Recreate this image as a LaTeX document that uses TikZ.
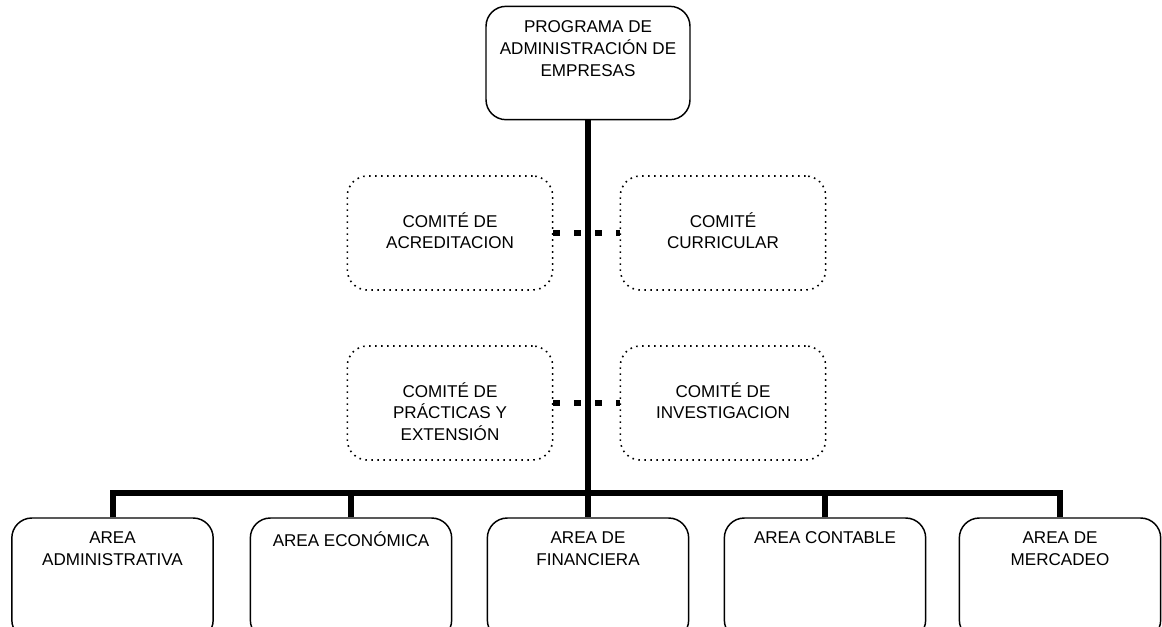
\documentclass[tikz,border=0pt]{standalone}
\usepackage{fontspec}
\setmainfont{Liberation Sans}
\tikzset{
	unit/.style={draw, line width=1.1pt, rounded corners=15pt, inner sep=0pt, font=\fontsize{12.8}{16.3}\selectfont},
	comite/.style={draw, line width=1.2pt, dash pattern=on 1.2pt off 3.3pt, rounded corners=15pt, inner sep=0pt, font=\fontsize{12.8}{16.3}\selectfont},
	mando/.style={line width=4.5pt},
	enlace/.style={line width=4.5pt, dash pattern=on 5.25pt off 10.5pt}
}
\newcommand{\caja}[4]{\parbox[c][#1][t]{#2}{\centering\vspace*{#3}#4}}
\begin{document}
\begin{tikzpicture}[x=0.75pt, y=-0.75pt]
	\useasboundingbox (0,0) rectangle (1162,626);
	\clip (0,0) rectangle (1162,626);
	% programa
	\node [unit] (prog) at (588,63) {\caja{85pt}{153pt}{10.8pt}{PROGRAMA DE\\ADMINISTRACIÓN DE\\EMPRESAS}};
	% comites
	\node [comite] (acred) at (450,233) {\caja{85.5pt}{154pt}{27.2pt}{COMITÉ DE\\ACREDITACION}};
	\node [comite] (curri) at (723,233) {\caja{85.5pt}{154pt}{27.2pt}{COMITÉ\\CURRICULAR}};
	\node [comite] (pract) at (450,403) {\caja{85.5pt}{154pt}{27.2pt}{COMITÉ DE\\PRÁCTICAS Y\\EXTENSIÓN}};
	\node [comite] (inves) at (723,403) {\caja{85.5pt}{154pt}{27.2pt}{COMITÉ DE\\INVESTIGACION}};
	% areas
	\node [unit] (admin) at (112.5,579) {\caja{91.5pt}{151pt}{10.3pt}{AREA\\ADMINISTRATIVA}};
	\node [unit] (econ) at (351,579) {\caja{91.5pt}{151pt}{10.3pt}{AREA ECONÓMICA}};
	\node [unit] (finan) at (588,579) {\caja{91.5pt}{151pt}{10.3pt}{AREA DE\\FINANCIERA}};
	\node [unit] (conta) at (825,579) {\caja{91.5pt}{151pt}{10.3pt}{AREA CONTABLE}};
	\node [unit] (merca) at (1060,579) {\caja{91.5pt}{151pt}{10.3pt}{AREA DE\\MERCADEO}};
	\coordinate (bus) at (588,493);
	% enlaces
	\draw [enlace] (acred.east) -- (curri.west);
	\draw [enlace] (pract.east) -- (inves.west);
	\draw [mando] (prog.south) -- (finan.north);
	\draw [mando] (admin.north) |- (bus) -| (merca.north);
	\draw [mando] (econ.north) -- (econ.north |- bus);
	\draw [mando] (conta.north) -- (conta.north |- bus);
\end{tikzpicture}
\end{document}
